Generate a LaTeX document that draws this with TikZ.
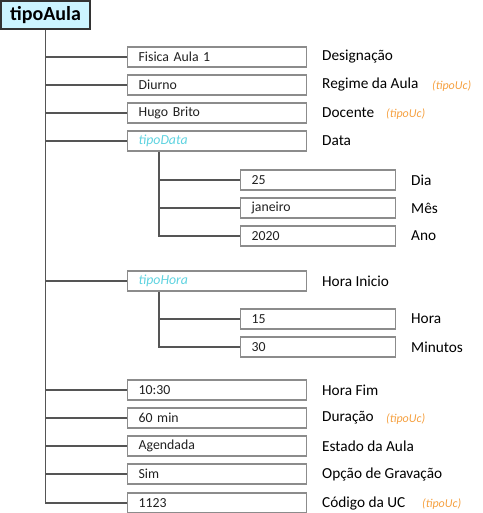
\documentclass[tikz,border=0pt]{standalone}
\usepackage{fontspec}
\setmainfont{Carlito}
\definecolor{boxline}{HTML}{8C8C8C}
\definecolor{conn}{HTML}{555555}
\definecolor{topfill}{HTML}{CCF4FF}
\definecolor{cyantxt}{HTML}{5FD3E0}
\definecolor{orangetxt}{HTML}{F5A040}
\definecolor{boxtxt}{HTML}{202020}
\tikzset{
  x=1pt,y=-1pt,
  topbox/.style={draw=black!80,line width=1.6pt,fill=topfill,minimum width=89pt,minimum height=28pt,inner sep=0pt,font=\fontsize{20}{20}\selectfont\bfseries},
  valbox/.style={draw=boxline,line width=1.3pt,minimum width=179pt,minimum height=20pt,inner sep=0pt,anchor=west,text width=157pt,align=left,font=\fontsize{13.8}{13.8}\selectfont,text=boxtxt},
  subbox/.style={valbox,minimum width=155pt,text width=133pt},
  lbl/.style={anchor=west,inner sep=0pt,font=\fontsize{15.3}{15.3}\selectfont},
  uc/.style={anchor=west,inner sep=0pt,font=\fontsize{12}{12}\selectfont\itshape,text=orangetxt},
  conline/.style={draw=conn,line width=1.2pt}
}
\begin{document}
\begin{tikzpicture}
\useasboundingbox (0,0) rectangle (482,513);
\node[topbox] (root) at (45.5,15) {tipoAula};
% level 1 boxes
\node[valbox] (b1) at (127,57) {Fisica Aula 1};
\node[valbox] (b2) at (127,85) {Diurno};
\node[valbox] (b3) at (127,113) {Hugo Brito};
\node[valbox] (b4) at (127,141) {\textcolor{cyantxt}{\itshape tipoData}};
\node[subbox] (d1) at (240,180) {25};
\node[subbox] (d2) at (240,208) {janeiro};
\node[subbox] (d3) at (240,236) {2020};
\node[valbox] (b5) at (127,281) {\textcolor{cyantxt}{\itshape tipoHora}};
\node[subbox] (h1) at (240,319) {15};
\node[subbox] (h2) at (240,347) {30};
\node[valbox] (b6) at (127,390) {10:30};
\node[valbox] (b7) at (127,418) {60 min};
\node[valbox] (b8) at (127,446) {Agendada};
\node[valbox] (b9) at (127,474) {Sim};
\node[valbox] (b10) at (127,503) {1123};
% labels
\node[lbl] (l1) at (322,57) {Designação};
\node[lbl] (l2) at (322,85) {Regime da Aula};
\node[uc] (u2) at (432,86) {(tipoUc)};
\node[lbl] (l3) at (322,113) {Docente};
\node[uc] (u3) at (386,114) {(tipoUc)};
\node[lbl] (l4) at (322,141) {Data};
\node[lbl] (ld1) at (411,180) {Dia};
\node[lbl] (ld2) at (411,208) {Mês};
\node[lbl] (ld3) at (411,236) {Ano};
\node[lbl] (l5) at (322,281) {Hora Inicio};
\node[lbl] (lh1) at (411,319) {Hora};
\node[lbl] (lh2) at (411,347) {Minutos};
\node[lbl] (l6) at (322,390) {Hora Fim};
\node[lbl] (l7) at (322,418) {Duração};
\node[uc] (u7) at (386,419) {(tipoUc)};
\node[lbl] (l8) at (322,446) {Estado da Aula};
\node[lbl] (l9) at (322,474) {Opção de Gravação};
\node[lbl] (l10) at (322,503) {Código da UC};
\node[uc] (u10) at (422,504) {(tipoUc)};
% connectors
\coordinate (trunk) at (45,0);
\path[conline] (root.south) |- (b10.west);
\foreach \n in {b1,b2,b3,b4,b5,b6,b7,b8,b9}{
  \path[conline] (trunk |- \n.west) -- (\n.west);
}
\coordinate (dtrunk) at (159,0);
\path[conline] (dtrunk |- b4.south) |- (d3.west);
\path[conline] (dtrunk |- d1.west) -- (d1.west);
\path[conline] (dtrunk |- d2.west) -- (d2.west);
\path[conline] (dtrunk |- b5.south) |- (h2.west);
\path[conline] (dtrunk |- h1.west) -- (h1.west);
\end{tikzpicture}
\end{document}
